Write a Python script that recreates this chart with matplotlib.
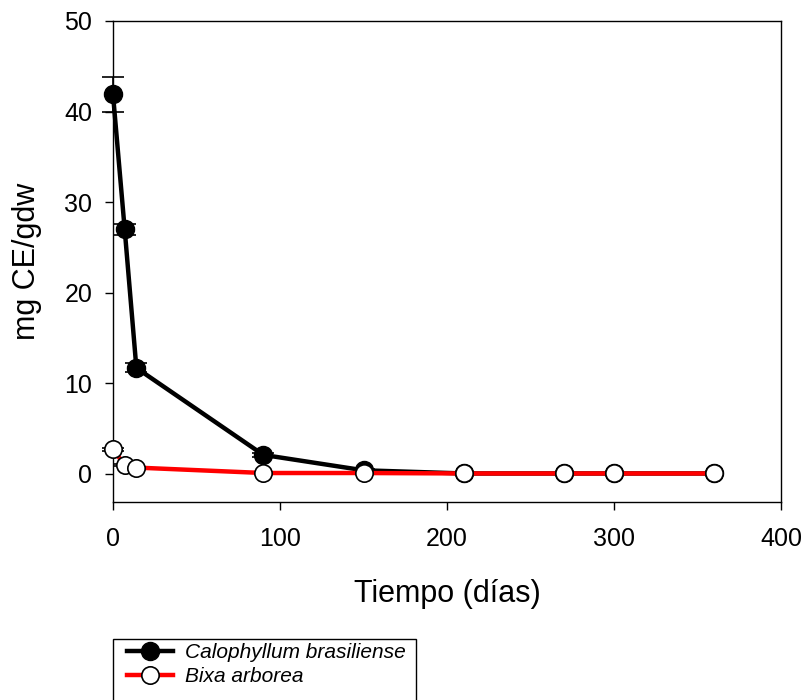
import matplotlib
matplotlib.use("Agg")
import matplotlib.pyplot as plt
from matplotlib.lines import Line2D
from matplotlib.patches import Rectangle

plt.rcParams['font.family'] = ['Liberation Sans', 'DejaVu Sans']

# Calophyllum brasiliense
dias_cal = [0, 7, 14, 90, 150, 210, 270, 300, 360]
cal = [41.9, 27.0, 11.7, 2.1, 0.4, 0.05, 0.05, 0.05, 0.05]
cal_err = [1.9, 0.6, 0.5, 0.2, 0.1, 0.0, 0.0, 0.0, 0.0]

# Bixa arborea
dias_bix = [0, 7, 14, 90, 150, 210, 270, 300, 360]
bix = [2.7, 1.0, 0.7, 0.1, 0.1, 0.05, 0.05, 0.05, 0.05]
bix_err = [0.2, 0.1, 0.1, 0.05, 0.0, 0.0, 0.0, 0.0, 0.0]

fig = plt.figure(figsize=(8.06, 7.0), dpi=100)
ax = fig.add_axes([113 / 806, 1 - 502 / 700, 668 / 806, 481 / 700])

# error bars only where they are non-zero
for x, y, e in zip(dias_cal, cal, cal_err):
    if e > 0:
        eb = ax.errorbar(x, y, yerr=e, fmt='none', ecolor='black', elinewidth=1.2,
                         capsize=8, capthick=1.2, zorder=1)
        for a in eb.get_children():
            a.set_clip_on(False)
for x, y, e in zip(dias_bix, bix, bix_err):
    if e > 0:
        eb = ax.errorbar(x, y, yerr=e, fmt='none', ecolor='black', elinewidth=1.2,
                         capsize=8, capthick=1.2, zorder=1)
        for a in eb.get_children():
            a.set_clip_on(False)

ax.plot(dias_cal, cal, color='black', lw=3.2, marker='o', ms=13,
        mfc='black', mec='black', zorder=2, clip_on=False)
ax.plot(dias_bix, bix, color='red', lw=3.2, marker='o', ms=12.5,
        mfc='white', mec='black', mew=1.2, zorder=3, clip_on=False)

ax.set_xlim(0, 400)
ax.set_ylim(-3.1, 50)
ax.set_xticks([0, 100, 200, 300, 400])
ax.set_yticks([0, 10, 20, 30, 40, 50])
ax.tick_params(labelsize=18, direction='out', length=6, width=1)
ax.tick_params(axis='x', pad=12)
ax.tick_params(axis='y', pad=9)
for s in ax.spines.values():
    s.set_linewidth(1)
ax.set_xlabel('Tiempo (días)', fontsize=22, labelpad=20)
ax.set_ylabel('mg CE/gdw', fontsize=22, labelpad=16)

# legend box runs off the bottom of the figure
fig.patches.append(Rectangle((113 / 806, -0.05), (416 - 113) / 806, 0.05 + 61 / 700,
                             transform=fig.transFigure, fill=False,
                             edgecolor='black', lw=1))

handles = [
    Line2D([], [], color='black', lw=3.2, marker='o', ms=13, mfc='black', mec='black'),
    Line2D([], [], color='red', lw=3.2, marker='o', ms=12.5, mfc='white', mec='black', mew=1.2),
]
labels = ['Calophyllum brasiliense', 'Bixa arborea']
leg = fig.legend(handles, labels, loc='upper left',
                 bbox_to_anchor=(127 / 806, 1 - 643 / 700),
                 prop={'style': 'italic', 'size': 15}, frameon=False,
                 handlelength=2.2, handletextpad=0.6, borderpad=0,
                 borderaxespad=0, labelspacing=0.25)

fig.savefig('out.png', dpi=100)
